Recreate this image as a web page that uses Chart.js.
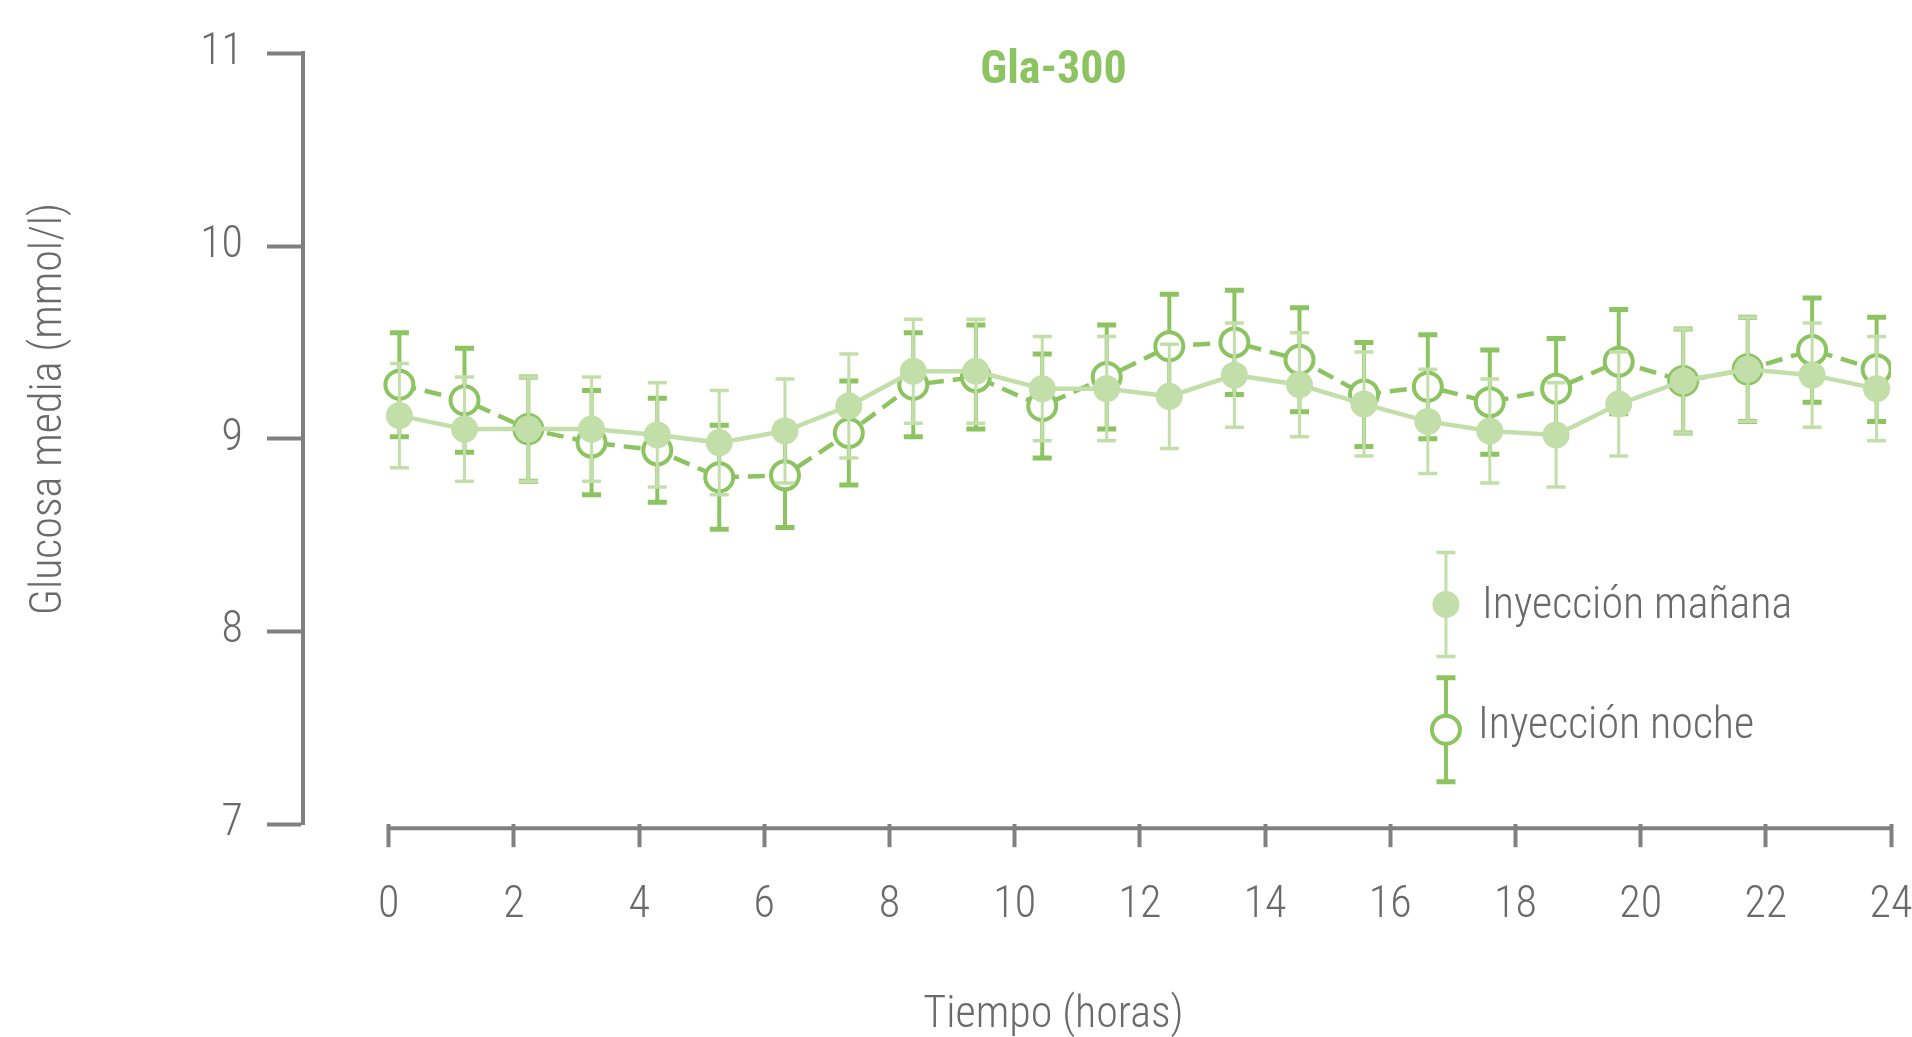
<!DOCTYPE html>
<html>
<head>
<meta charset="utf-8">
<script src="https://cdn.jsdelivr.net/npm/chart.js@4.4.1/dist/chart.umd.min.js"></script>
<style>
  html, body { margin: 0; padding: 0; background: #ffffff; overflow: hidden; }
  #wrap { width: 1912px; height: 1037px; overflow: hidden; position: relative; }
  canvas { display: block; }
</style>
</head>
<body>
<div id="wrap"><canvas id="chart" width="2107" height="1037"></canvas></div>
<script>
// ---------------- data ----------------
const hours = [0.17, 1.21, 2.23, 3.24, 4.29, 5.28, 6.33, 7.35, 8.38, 9.38, 10.44, 11.47,
               12.47, 13.51, 14.55, 15.58, 16.60, 17.59, 18.65, 19.65, 20.68, 21.71, 22.74, 23.77];
const morningMean = [9.12, 9.05, 9.05, 9.05, 9.02, 8.98, 9.04, 9.17, 9.35, 9.35, 9.26, 9.26,
                     9.22, 9.33, 9.28, 9.18, 9.09, 9.04, 9.02, 9.18, 9.30, 9.36, 9.33, 9.26];
const morningErr  = [0.27, 0.27, 0.27, 0.27, 0.27, 0.27, 0.27, 0.27, 0.27, 0.27, 0.27, 0.27,
                     0.27, 0.27, 0.27, 0.27, 0.27, 0.27, 0.27, 0.27, 0.27, 0.27, 0.27, 0.27];
const nightMean   = [9.28, 9.20, 9.05, 8.98, 8.94, 8.80, 8.81, 9.03, 9.28, 9.32, 9.17, 9.32,
                     9.48, 9.50, 9.41, 9.23, 9.27, 9.19, 9.26, 9.40, 9.30, 9.36, 9.46, 9.36];
const nightErr    = [0.27, 0.27, 0.27, 0.27, 0.27, 0.27, 0.27, 0.27, 0.27, 0.27, 0.27, 0.27,
                     0.27, 0.27, 0.27, 0.27, 0.27, 0.27, 0.26, 0.27, 0.27, 0.27, 0.27, 0.27];
const seriesNames = ['Inyección mañana', 'Inyección noche'];
const xTickValues = [0, 2, 4, 6, 8, 10, 12, 14, 16, 18, 20, 22, 24];
const yTickValues = [7, 8, 9, 10, 11];
const chartTitle = 'Gla-300';
const xTitle = 'Tiempo (horas)';
const yTitle = 'Glucosa media (mmol/l)';

// ---------------- styles / layout ----------------
const FONT = "'Roboto Condensed', 'Liberation Sans Narrow', 'DejaVu Sans Condensed', Roboto, sans-serif";
const LIGHT = '#C3DFA9';
const DARK = '#8DC462';
const AXIS = '#808080';
const TEXT = '#6A6A6A';
const legendLayout = { x: 16.89, y: [8.14, 7.49], err: 0.27, textDx: [36, 32], textDy: [3, -3] };
const yTitleShift = '      '; // moves the centred axis title up along the axis

Chart.defaults.font.family = FONT;
Chart.defaults.font.weight = 300;

const errorBarPlugin = {
  id: 'errorBars',
  beforeDatasetDraw(chart, args) {
    const ds = chart.data.datasets[args.index];
    const meta = args.meta;
    const ys = chart.scales[meta.yAxisID];
    const ctx = chart.ctx;
    ctx.save();
    ctx.strokeStyle = ds.errColor;
    meta.data.forEach((pt, i) => {
      const v = ds.data[i].y, e = ds.errors[i];
      const yt = ys.getPixelForValue(v + e), yb = ys.getPixelForValue(v - e);
      const px = pt.x, hw = ds.capWidth / 2;
      ctx.lineWidth = ds.errStem;
      ctx.beginPath(); ctx.moveTo(px, yt); ctx.lineTo(px, yb); ctx.stroke();
      ctx.lineWidth = ds.capThick;
      ctx.beginPath();
      ctx.moveTo(px - hw, yt); ctx.lineTo(px + hw, yt);
      ctx.moveTo(px - hw, yb); ctx.lineTo(px + hw, yb);
      ctx.stroke();
    });
    ctx.restore();
  }
};

const axisLinePlugin = {
  id: 'xBaseline',
  afterDraw(chart) {
    const xs = chart.scales.x, ctx = chart.ctx;
    const y = chart.chartArea.bottom + 4;
    ctx.save();
    ctx.strokeStyle = AXIS;
    ctx.lineWidth = 4;
    ctx.beginPath();
    ctx.moveTo(xs.getPixelForValue(xTickValues[0]) - 2, y);
    ctx.lineTo(xs.getPixelForValue(xTickValues[xTickValues.length - 1]) + 2, y);
    ctx.stroke();
    ctx.restore();
  }
};

const legendPlugin = {
  id: 'errLegend',
  afterDraw(chart) {
    const ctx = chart.ctx, xs = chart.scales.x, ys = chart.scales.y;
    const lx = xs.getPixelForValue(legendLayout.x);
    chart.data.datasets.forEach((ds, i) => {
      const v = legendLayout.y[i];
      const cy = ys.getPixelForValue(v);
      const yt = ys.getPixelForValue(v + legendLayout.err);
      const yb = ys.getPixelForValue(v - legendLayout.err);
      const hw = ds.capWidth / 2;
      ctx.save();
      ctx.strokeStyle = ds.errColor;
      ctx.lineWidth = ds.errStem;
      ctx.beginPath(); ctx.moveTo(lx, yt); ctx.lineTo(lx, yb); ctx.stroke();
      ctx.lineWidth = ds.capThick;
      ctx.beginPath();
      ctx.moveTo(lx - hw, yt); ctx.lineTo(lx + hw, yt);
      ctx.moveTo(lx - hw, yb); ctx.lineTo(lx + hw, yb);
      ctx.stroke();
      ctx.beginPath();
      ctx.arc(lx, cy, ds.pointRadius, 0, Math.PI * 2);
      ctx.fillStyle = ds.pointBackgroundColor;
      ctx.fill();
      if (ds.pointBorderWidth > 0) {
        ctx.lineWidth = ds.pointBorderWidth;
        ctx.strokeStyle = ds.pointBorderColor;
        ctx.stroke();
      }
      ctx.fillStyle = TEXT;
      ctx.font = '300 44px ' + FONT;
      ctx.textAlign = 'left';
      ctx.textBaseline = 'middle';
      ctx.fillText(ds.label, lx + legendLayout.textDx[i], cy + legendLayout.textDy[i]);
      ctx.restore();
    });
  }
};

const toPoints = (means) => hours.map((h, i) => ({ x: h, y: means[i] }));

new Chart(document.getElementById('chart'), {
  type: 'line',
  data: {
    datasets: [
      {
        label: seriesNames[0],
        data: toPoints(morningMean),
        errors: morningErr,
        order: 0,
        borderColor: LIGHT,
        backgroundColor: LIGHT,
        borderWidth: 4.5,
        tension: 0,
        pointRadius: 13.5,
        pointBackgroundColor: LIGHT,
        pointBorderColor: LIGHT,
        pointBorderWidth: 0,
        errColor: LIGHT, errStem: 3, capWidth: 19, capThick: 3.5
      },
      {
        label: seriesNames[1],
        data: toPoints(nightMean),
        errors: nightErr,
        order: 1,
        borderColor: DARK,
        backgroundColor: '#ffffff',
        borderWidth: 4.5,
        borderDash: [17, 9],
        tension: 0,
        pointRadius: 14,
        pointBackgroundColor: '#ffffff',
        pointBorderColor: DARK,
        pointBorderWidth: 4,
        errColor: DARK, errStem: 4, capWidth: 19, capThick: 5
      }
    ]
  },
  options: {
    responsive: false,
    animation: false,
    events: [],
    layout: { padding: { left: 0, right: 0, top: 0, bottom: 0 } },
    plugins: {
      legend: { display: false },
      tooltip: { enabled: false },
      subtitle: {
        display: true, text: chartTitle, position: 'top', color: DARK,
        font: { family: FONT, size: 46, weight: 'bold' },
        padding: { top: 44, bottom: -45.9 }
      },
      title: {
        display: true, text: xTitle, position: 'bottom', color: TEXT,
        font: { family: FONT, size: 44, weight: 300 },
        padding: { top: 24, bottom: -5.4 }
      }
    },
    scales: {
      x: {
        type: 'linear', min: -1.37, max: 24,
        afterBuildTicks: (s) => { s.ticks = xTickValues.map(v => ({ value: v })); },
        border: { display: false },
        grid: { display: true, drawOnChartArea: false, drawTicks: true, tickLength: 23, tickWidth: 4, tickColor: AXIS },
        ticks: { color: TEXT, font: { size: 44, weight: 300 }, padding: 32.8, maxRotation: 0, autoSkip: false }
      },
      y: {
        type: 'linear', position: 'left', min: 7, max: 11,
        afterBuildTicks: (s) => { s.ticks = yTickValues.map(v => ({ value: v })); },
        afterFit: (s) => { s.width = 303; },
        border: { display: true, color: AXIS, width: 4 },
        grid: { display: true, drawOnChartArea: false, drawTicks: true, tickLength: 36, tickWidth: 4, tickColor: AXIS },
        ticks: { color: TEXT, font: { size: 44, weight: 300 }, padding: 24 },
        title: { display: true, text: yTitleShift + yTitle, color: TEXT, font: { size: 44, weight: 300 }, padding: { top: 23.6, bottom: 0 } }
      },
      yPad: {
        type: 'linear', position: 'right', display: true,
        border: { display: false },
        grid: { display: false, drawTicks: false },
        ticks: { display: false },
        afterFit: (s) => { s.width = 216; }
      }
    }
  },
  plugins: [errorBarPlugin, axisLinePlugin, legendPlugin]
});
</script>
</body>
</html>
